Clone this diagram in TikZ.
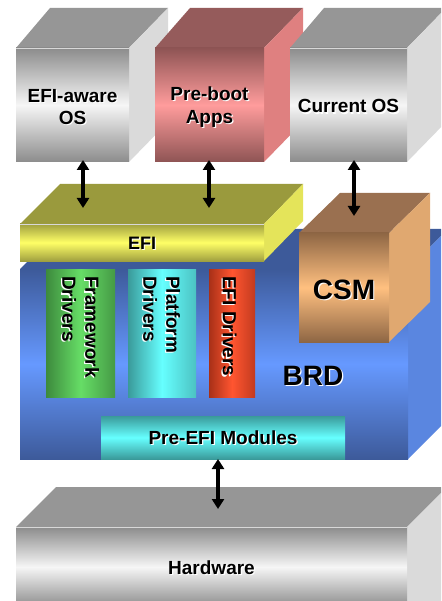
\documentclass[tikz,border=0pt]{standalone}
\usepackage{fontspec}
\setmainfont{Liberation Sans}
\usetikzlibrary{arrows.meta}
\definecolor{gtop}{HTML}{969696}
\definecolor{gside}{HTML}{DADADA}
\definecolor{gdark}{HTML}{8C8C8C}
\definecolor{glight}{HTML}{F6F6F6}
\definecolor{ptop}{HTML}{955B5B}
\definecolor{pside}{HTML}{DF8080}
\definecolor{pdark}{HTML}{8E5454}
\definecolor{plight}{HTML}{FF9C9C}
\definecolor{etop}{HTML}{9A9A3D}
\definecolor{eside}{HTML}{E4E45A}
\definecolor{edark}{HTML}{A0A040}
\definecolor{elight}{HTML}{FFFF66}
\definecolor{ctop}{HTML}{9A7050}
\definecolor{cside}{HTML}{E0A870}
\definecolor{cdark}{HTML}{8E6644}
\definecolor{clight}{HTML}{FFC080}
\definecolor{btop}{HTML}{3D5A9A}
\definecolor{bside}{HTML}{5A86E0}
\definecolor{bdark}{HTML}{3D5A9A}
\definecolor{blight}{HTML}{6699FF}
\definecolor{fdark}{HTML}{3D8A3D}
\definecolor{flight}{HTML}{66DD66}
\definecolor{cydark}{HTML}{3A9A9A}
\definecolor{cylight}{HTML}{66FFFF}
\definecolor{rdark}{HTML}{A83018}
\definecolor{rlight}{HTML}{FF5530}
\definecolor{edgehl}{HTML}{D8D8D8}
\newcommand\sh[1]{\makebox[0pt][l]{\kern1.2pt\raisebox{-1.2pt}{\textcolor{white}{#1}}}#1}
\begin{document}
\begin{tikzpicture}[x=1pt,y=-1pt,
  face/.style={inner sep=0pt, outer sep=0pt},
  lbl/.style={inner sep=0pt, align=center, font=\bfseries\fontsize{19}{22.5}\selectfont},
  bigtxt/.style={inner sep=0pt, font=\bfseries\fontsize{28}{32}\selectfont},
  vtxt/.style={inner sep=0pt, align=left, rotate=-90, anchor=west, font=\bfseries\fontsize{19}{23}\selectfont},
  arr/.style={line width=4pt, {Triangle[width=12pt,length=10pt]}-{Triangle[width=12pt,length=10pt]}}]
\useasboundingbox (0,0) rectangle (441,601);
\clip (0,0) rectangle (441,601);
\fill[white] (0,0) rectangle (441,601);

% EFI-aware OS cube
\fill[gtop] (16,48) -- (50,8) -- (168,8) -- (129,48) -- cycle;
\fill[gside] (129,48) -- (168,8) -- (168,122) -- (129,162) -- cycle;
\node[face, minimum width=113pt, minimum height=114pt, top color=gdark, bottom color=gdark, middle color=glight] (efios) at (72.5,105) {};
\node[lbl] (efiosl) at (72.5,107.5) {\sh{EFI-aware}\\\sh{OS}};
\draw[edgehl, line width=0.7pt] (16,48) -- (129,48);

% Pre-boot Apps cube
\fill[ptop] (155,48) -- (190,8) -- (303,8) -- (264,48) -- cycle;
\fill[pside] (264,48) -- (303,8) -- (303,122) -- (264,162) -- cycle;
\node[face, minimum width=109pt, minimum height=114pt, top color=pdark, bottom color=pdark, middle color=plight] (preboot) at (209.5,105) {};
\node[lbl] (prebootl) at (209.5,107.5) {\sh{Pre-boot}\\\sh{Apps}};

% Current OS cube
\fill[gtop] (290,48) -- (324,8) -- (446,8) -- (407,48) -- cycle;
\fill[gside] (407,48) -- (446,8) -- (446,122) -- (407,162) -- cycle;
\node[face, minimum width=117pt, minimum height=114pt, top color=gdark, bottom color=gdark, middle color=glight] (curos) at (348.5,105) {};
\node[lbl] (curosl) at (348.5,107) {\sh{Current OS}};
\draw[edgehl, line width=0.7pt] (290,48) -- (407,48);

% BRD block
\fill[btop] (20,269) -- (60,229) -- (448,229) -- (408,269) -- cycle;
\fill[bside] (408,269) -- (448,229) -- (448,419) -- (408,459) -- cycle;
\node[face, minimum width=388pt, minimum height=190pt, top color=bdark, bottom color=bdark, middle color=blight] (brd) at (214,364) {};
\node[bigtxt] (brdlbl) at (313,376) {\sh{BRD}};

% EFI slab
\fill[etop] (20,224) -- (60,184) -- (303,184) -- (264,224) -- cycle;
\fill[eside] (264,224) -- (303,184) -- (303,221) -- (264,261) -- cycle;
\node[face, minimum width=244pt, minimum height=37pt, top color=edark, bottom color=edark, middle color=elight] (efi) at (142,242.5) {};
\node[lbl, font=\bfseries\fontsize{18}{22}\selectfont] (efil) at (142,244) {\sh{EFI}};
\draw[edgehl, line width=0.7pt] (20,224) -- (264,224);

% CSM
\fill[ctop] (299,233) -- (340,193) -- (430,193) -- (389,233) -- cycle;
\fill[cside] (389,233) -- (430,193) -- (430,302) -- (389,342) -- cycle;
\node[face, minimum width=90pt, minimum height=109pt, top color=cdark, bottom color=cdark, middle color=clight] (csm) at (344,287.5) {};
\node[bigtxt] (csml) at (344,290) {\sh{CSM}};

% Driver columns
\node[face, minimum width=69pt, minimum height=128pt, left color=fdark, right color=fdark!80!flight, middle color=flight] (fwcol) at (80.5,333) {};
\node[vtxt] (fwtxt) at (80,276) {\sh{Framework}\\\sh{Drivers}};
\node[face, minimum width=68pt, minimum height=128pt, left color=cydark, right color=cydark!60!cylight, middle color=cylight] (plcol) at (162,333) {};
\node[vtxt] (pltxt) at (161,276) {\sh{Platform}\\\sh{Drivers}};
\node[face, minimum width=46pt, minimum height=128pt, left color=rdark, right color=rdark!70!rlight, middle color=rlight] (edcol) at (232,333) {};
\node[vtxt] (edtxt) at (229,276) {\sh{EFI Drivers}};

% Pre-EFI Modules
\node[face, minimum width=244pt, minimum height=43pt, top color=cydark, bottom color=cydark, middle color=cylight] (pefi) at (223,437.5) {};
\node[lbl] (pefil) at (223,438.5) {\sh{Pre-EFI Modules}};

% Hardware
\fill[gtop] (16,527) -- (56,487) -- (447,487) -- (407,527) -- cycle;
\fill[gside] (407,527) -- (447,487) -- (447,601) -- (407,601) -- cycle;
\node[face, minimum width=391pt, minimum height=80pt, top color=gdark, bottom color=gdark, middle color=glight] (hw) at (211.5,567) {};
\node[lbl] (hwl) at (211.5,568) {\sh{Hardware}};
\draw[edgehl, line width=0.7pt] (16,527) -- (407,527);

% Arrow end points
\coordinate (a1t) at (83,160);
\coordinate (a1b) at (83,208);
\coordinate (a2t) at (209,160);
\coordinate (a2b) at (209,208);
\coordinate (a3t) at (354,160);
\coordinate (a3b) at (354,216);
\coordinate (a4t) at (218,459);
\coordinate (a4b) at (218,509);
\draw[arr] (a1t) -- (a1b);
\draw[arr] (a2t) -- (a2b);
\draw[arr] (a3t) -- (a3b);
\draw[arr] (a4t) -- (a4b);
\end{tikzpicture}
\end{document}
